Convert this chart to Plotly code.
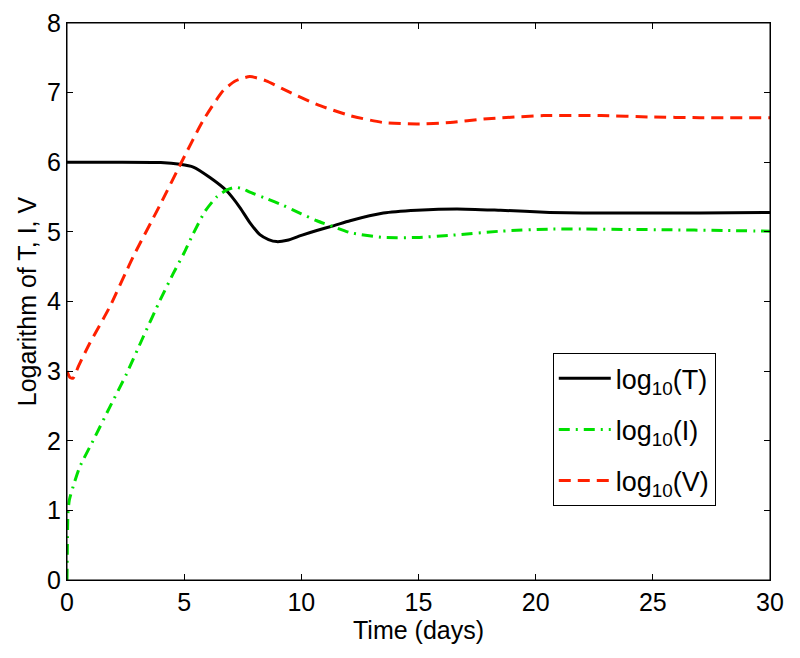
import plotly.graph_objects as go

# Time points and values (days, log10)
t_T = [0, 2, 4, 4.82, 5.39, 6.1, 6.81, 7.38, 7.81, 8.23, 8.6, 8.95, 9.4, 10.0,
       10.66, 11.4, 12.08, 13.5, 14.93, 16.64, 18.5, 20.6, 22, 25, 27, 30]
log_T = [6.0, 6.0, 5.995, 5.97, 5.93, 5.78, 5.59, 5.35, 5.13, 4.96, 4.89, 4.86,
         4.88, 4.95, 5.02, 5.09, 5.16, 5.27, 5.31, 5.33, 5.31, 5.28, 5.27, 5.27, 5.27, 5.28]

t_I = [0, 0.02, 0.04, 0.1, 0.26, 0.54, 1.11, 1.82, 2.54, 3.25, 3.96, 4.53, 5.0, 5.38,
       5.9, 6.38, 6.8, 7.17, 7.5, 7.8, 8.5, 9.23, 10.0, 10.66, 11.4, 12.08, 13.5, 14.93,
       16.35, 18.5, 20.6, 22, 25.6, 28, 30]
log_I = [0.0, 0.6, 0.96, 1.15, 1.34, 1.62, 2.0, 2.48, 2.96, 3.49, 4.01, 4.4, 4.7, 4.97,
         5.3, 5.5, 5.6, 5.64, 5.62, 5.57, 5.48, 5.38, 5.26, 5.16, 5.07, 4.99, 4.92, 4.92,
         4.95, 5.01, 5.04, 5.04, 5.03, 5.02, 5.01]

t_V = [0, 0.12, 0.26, 0.5, 0.97, 1.82, 2.82, 3.96, 4.96, 5.81, 6.67, 7.2, 7.8, 8.5,
       9.23, 10.66, 12.08, 13.5, 14.93, 16.35, 17.78, 20.34, 22.8, 24.9, 27, 30]
log_V = [3.0, 2.91, 2.9, 3.08, 3.4, 3.92, 4.64, 5.38, 6.05, 6.6, 7.03, 7.17, 7.23, 7.17,
         7.05, 6.83, 6.67, 6.57, 6.55, 6.57, 6.62, 6.67, 6.67, 6.65, 6.64, 6.64]

names = ["log<sub>10</sub>(T)", "log<sub>10</sub>(I)", "log<sub>10</sub>(V)"]

FONT = "Liberation Sans, Arial, sans-serif"
FS = 25

fig = go.Figure()
fig.add_trace(go.Scatter(x=t_T, y=log_T, mode="lines", name=names[0], legendgroup="a",
                         line=dict(color="black", width=3, shape="spline", smoothing=0.6)))
fig.add_trace(go.Scatter(x=t_I, y=log_I, mode="lines", name=names[1], legendgroup="b",
                         line=dict(color="#00e000", width=3, dash="11px,6px,2px,6px",
                                   shape="spline", smoothing=0.6)))
fig.add_trace(go.Scatter(x=t_V, y=log_V, mode="lines", name=names[2], legendgroup="c",
                         line=dict(color="#ff2000", width=3, dash="12px,7px",
                                   shape="spline", smoothing=0.6)))

axis_common = dict(showline=True, linecolor="black", linewidth=1, mirror="ticks",
                   ticks="inside", ticklen=6, tickcolor="black", showgrid=False,
                   zeroline=False, automargin=False, ticklabeloverflow="allow",
                   tickfont=dict(size=FS, color="black", family=FONT))

fig.update_xaxes(range=[0, 30], dtick=5, tick0=0,
                 title=dict(text="Time (days)", font=dict(size=FS, color="black", family=FONT),
                            standoff=0),
                 **axis_common)
fig.update_yaxes(range=[0, 8], dtick=1, tick0=0,
                 title=dict(text="Logarithm of T, I, V", font=dict(size=FS, color="black", family=FONT),
                            standoff=3),
                 **axis_common)

# plot frame
fig.add_shape(type="rect", xref="paper", yref="paper", x0=0, y0=0, x1=1, y1=1,
              line=dict(color="black", width=1), fillcolor="rgba(0,0,0,0)", layer="above")

fig.update_layout(
    width=800, height=658,
    margin=dict(l=67, r=30, t=23, b=78),
    paper_bgcolor="white", plot_bgcolor="white",
    font=dict(family=FONT, color="black", size=FS),
    legend=dict(x=0.691, y=0.407, xanchor="left", yanchor="top",
                bordercolor="black", borderwidth=1, bgcolor="white",
                font=dict(size=27, color="black", family=FONT),
                tracegroupgap=13, itemwidth=52),
)

fig.write_html("out.html", config={"displayModeBar": False},
               post_script="document.body.style.margin='0';")
